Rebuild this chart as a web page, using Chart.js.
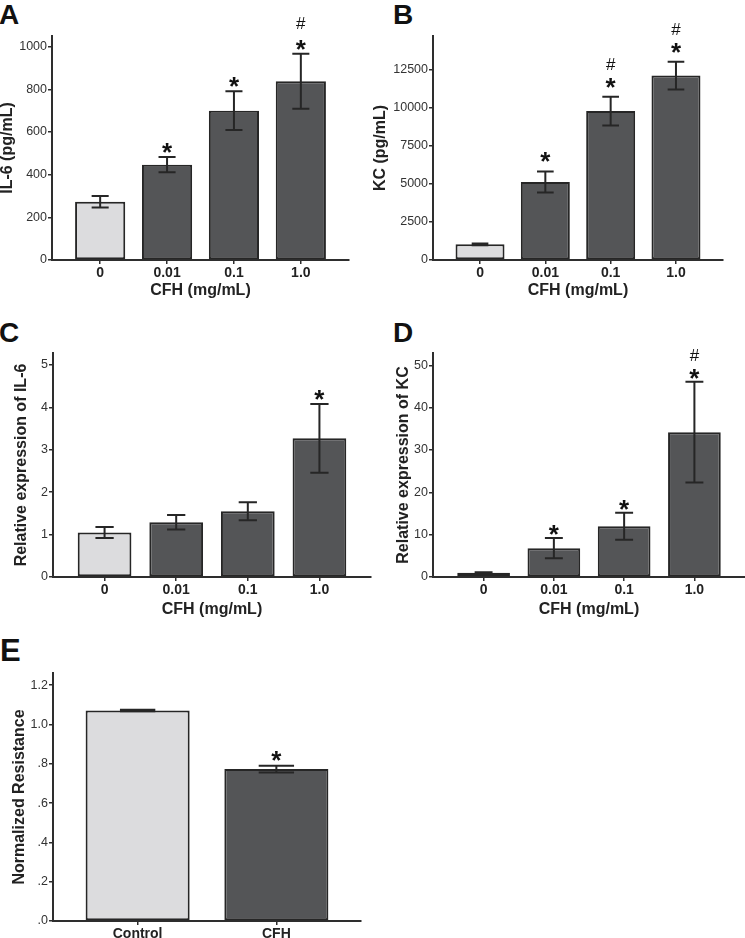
<!DOCTYPE html>
<html>
<head>
<meta charset="utf-8">
<script src="https://cdn.jsdelivr.net/npm/chart.js@4.4.1/dist/chart.umd.min.js"></script>
<style>
  body { margin: 0; width: 745px; height: 938px; overflow: hidden; background: #fff; position: relative; font-family: "Liberation Sans", Arial, sans-serif; }
  canvas { position: absolute; }
  .letter { position: absolute; font-weight: bold; font-size: 28px; line-height: 28px; color: #111; }
</style>
</head>
<body>
<div class="letter" style="left:-1px;top:1px">A</div>
<div class="letter" style="left:393px;top:1px">B</div>
<div class="letter" style="left:-1px;top:319px">C</div>
<div class="letter" style="left:393px;top:319px">D</div>
<div class="letter" style="left:0px;top:635px;font-size:31px;line-height:31px">E</div>

<canvas id="cA" width="365" height="305" style="left:0px;top:0px"></canvas>
<canvas id="cB" width="372" height="305" style="left:373px;top:0px"></canvas>
<canvas id="cC" width="373" height="305" style="left:0px;top:318px"></canvas>
<canvas id="cD" width="372" height="305" style="left:373px;top:318px"></canvas>
<canvas id="cE" width="375" height="310" style="left:0px;top:640px"></canvas>

<script>
// categories
const doseLabels = ["0", "0.01", "0.1", "1.0"];
const groupLabels = ["Control", "CFH"];

// A - IL-6 protein
const il6Mean = [273, 447, 700, 838];
const il6Err = [27, 36, 91, 129];
const il6Ticks = [0, 200, 400, 600, 800, 1000];
const il6Star = ["", "*", "*", "*"];
const il6Hash = ["", "", "", "#"];

// B - KC protein
const kcMean = [1030, 5120, 9770, 12100];
const kcErr = [60, 690, 945, 910];
const kcTicks = [0, 2500, 5000, 7500, 10000, 12500];
const kcStar = ["", "*", "*", "*"];
const kcHash = ["", "", "#", "#"];

// C - IL-6 relative expression
const il6RelMean = [1.05, 1.29, 1.55, 3.27];
const il6RelErr = [0.13, 0.17, 0.21, 0.81];
const il6RelTicks = [0, 1, 2, 3, 4, 5];
const il6RelStar = ["", "", "", "*"];
const il6RelHash = ["", "", "", ""];

// D - KC relative expression
const kcRelMean = [1.0, 6.8, 12.0, 34.2];
const kcRelErr = [0.15, 2.4, 3.2, 11.9];
const kcRelTicks = [0, 10, 20, 30, 40, 50];
const kcRelStar = ["", "*", "*", "*"];
const kcRelHash = ["", "", "", "#"];

// E - normalized resistance
const resMean = [1.071, 0.773];
const resErr = [0.004, 0.017];
const resTicks = [0, 0.2, 0.4, 0.6, 0.8, 1.0, 1.2];
const resTickText = [".0", ".2", ".4", ".6", ".8", "1.0", "1.2"];
const resStar = ["", "*"];
const resHash = ["", ""];

const FONT = '"Liberation Sans", Arial, sans-serif';
const LIGHT = "#dcdcde", DARK = "#545557", INK = "#262626";

// error bars + significance marks, drawn from the y scale
const errBars = {
  id: "errBars",
  afterDatasetsDraw(chart, args, opts) {
    const ctx = chart.ctx, y = chart.scales.y;
    const meta = chart.getDatasetMeta(0);
    const vals = chart.data.datasets[0].data;
    ctx.save();
    meta.data.forEach((bar, i) => {
      const v = vals[i].y, e = opts.err[i];
      const top = y.getPixelForValue(v + e), bot = y.getPixelForValue(v - e);
      const cap = bar.width * 0.17;
      ctx.strokeStyle = INK;
      ctx.lineWidth = 2;
      ctx.beginPath();
      ctx.moveTo(bar.x, top); ctx.lineTo(bar.x, bot);
      ctx.moveTo(bar.x - cap, top); ctx.lineTo(bar.x + cap, top);
      ctx.moveTo(bar.x - cap, bot); ctx.lineTo(bar.x + cap, bot);
      ctx.stroke();

      ctx.fillStyle = "#111";
      ctx.textAlign = "center";
      ctx.textBaseline = "alphabetic";
      let edge = top - opts.gap;
      if (opts.star[i]) {
        ctx.font = "bold 26px " + FONT;
        const m = ctx.measureText("*");
        ctx.fillText("*", bar.x, edge - m.actualBoundingBoxDescent);
        edge = edge - (m.actualBoundingBoxAscent + m.actualBoundingBoxDescent) - opts.hashGap;
      }
      if (opts.hash[i]) {
        ctx.font = "17px " + FONT;
        const m = ctx.measureText("#");
        ctx.fillText("#", bar.x, edge - m.actualBoundingBoxDescent);
      }
    });
    ctx.restore();
  }
};

function makePanel(id, o) {
  const colors = o.mean.map((v, i) => (i === 0 ? LIGHT : DARK));
  return new Chart(document.getElementById(id), {
    type: "bar",
    data: {
      datasets: [{
        data: o.mean.map((v, i) => ({ x: i, y: v })),
        backgroundColor: colors,
        borderColor: INK,
        borderWidth: 2,
        borderSkipped: false,
        categoryPercentage: 1,
        barPercentage: 0.75
      }]
    },
    options: {
      responsive: false,
      animation: false,
      events: [],
      layout: { padding: { left: 0, top: o.padTop, right: o.padRight, bottom: 0 } },
      plugins: {
        legend: { display: false },
        tooltip: { enabled: false },
        errBars: { err: o.err, star: o.star, hash: o.hash, gap: o.gap, hashGap: o.hashGap }
      },
      scales: {
        x: {
          type: "linear",
          offset: false,
          min: o.xMin,
          max: o.xMax,
          afterBuildTicks: ax => { ax.ticks = o.labels.map((l, i) => ({ value: i })); },
          afterFit: ax => { ax.height = o.xAxisH; },
          ticks: {
            callback: v => o.labels[v],
            autoSkip: false,
            maxRotation: 0,
            padding: 1,
            color: "#222",
            font: { family: FONT, size: 14, weight: "bold" }
          },
          grid: { offset: false, drawOnChartArea: false, tickLength: 4, color: "#2e2e2e", lineWidth: 1.5 },
          border: { display: true, color: "#2e2e2e", width: 2 },
          title: {
            display: !!o.xTitle,
            text: o.xTitle,
            color: "#222",
            padding: { top: 0, bottom: o.xTitlePad },
            font: { family: FONT, size: 16, weight: "bold", lineHeight: 1 }
          }
        },
        y: {
          min: 0,
          max: o.yMax,
          afterBuildTicks: ax => { ax.ticks = o.yTicks.map(v => ({ value: v })); },
          afterFit: ax => { ax.width = o.yAxisW; },
          ticks: {
            callback: (v, i) => (o.yTickText ? o.yTickText[i] : String(v)),
            padding: 1,
            color: "#333",
            font: { family: FONT, size: 12.5 }
          },
          grid: { drawOnChartArea: false, tickLength: 4, color: "#2e2e2e", lineWidth: 1.5 },
          border: { display: true, color: "#2e2e2e", width: 2 },
          title: {
            display: true,
            text: o.yTitle,
            color: "#222",
            padding: { top: o.yTitlePad, bottom: 0 },
            font: { family: FONT, size: 16, weight: "bold", lineHeight: 1 }
          }
        }
      }
    },
    plugins: [errBars]
  });
}

makePanel("cA", {
  labels: doseLabels, mean: il6Mean, err: il6Err, star: il6Star, hash: il6Hash,
  yTicks: il6Ticks, yMax: 1050, yTitle: "IL-6 (pg/mL)", xTitle: "CFH (mg/mL)",
  xMin: -0.72, xMax: 3.72, yAxisW: 52, padTop: 36, padRight: 16, xAxisH: 45,
  yTitlePad: 0, xTitlePad: 6, gap: 4, hashGap: 11
});

makePanel("cB", {
  labels: doseLabels, mean: kcMean, err: kcErr, star: kcStar, hash: kcHash,
  yTicks: kcTicks, yMax: 14700, yTitle: "KC (pg/mL)", xTitle: "CFH (mg/mL)",
  xMin: -0.72, xMax: 3.72, yAxisW: 60, padTop: 36, padRight: 22, xAxisH: 45,
  yTitlePad: 0, xTitlePad: 6, gap: 9, hashGap: 8
});

makePanel("cC", {
  labels: doseLabels, mean: il6RelMean, err: il6RelErr, star: il6RelStar, hash: il6RelHash,
  yTicks: il6RelTicks, yMax: 5.28, yTitle: "Relative expression of IL-6", xTitle: "CFH (mg/mL)",
  xMin: -0.72, xMax: 3.72, yAxisW: 53, padTop: 35, padRight: 2, xAxisH: 46,
  yTitlePad: 14, xTitlePad: 5, gap: 4, hashGap: 8
});

makePanel("cD", {
  labels: doseLabels, mean: kcRelMean, err: kcRelErr, star: kcRelStar, hash: kcRelHash,
  yTicks: kcRelTicks, yMax: 52.9, yTitle: "Relative expression of KC", xTitle: "CFH (mg/mL)",
  xMin: -0.72, xMax: 3.72, yAxisW: 60, padTop: 35, padRight: 0, xAxisH: 46,
  yTitlePad: 23, xTitlePad: 5, gap: 3, hashGap: 8
});

makePanel("cE", {
  labels: groupLabels, mean: resMean, err: resErr, star: resStar, hash: resHash,
  yTicks: resTicks, yTickText: resTickText, yMax: 1.262, yTitle: "Normalized Resistance", xTitle: "",
  xMin: -0.61, xMax: 1.61, yAxisW: 53, padTop: 33, padRight: 14, xAxisH: 29,
  yTitlePad: 12, xTitlePad: 0, gap: 5, hashGap: 8
});
</script>
</body>
</html>
